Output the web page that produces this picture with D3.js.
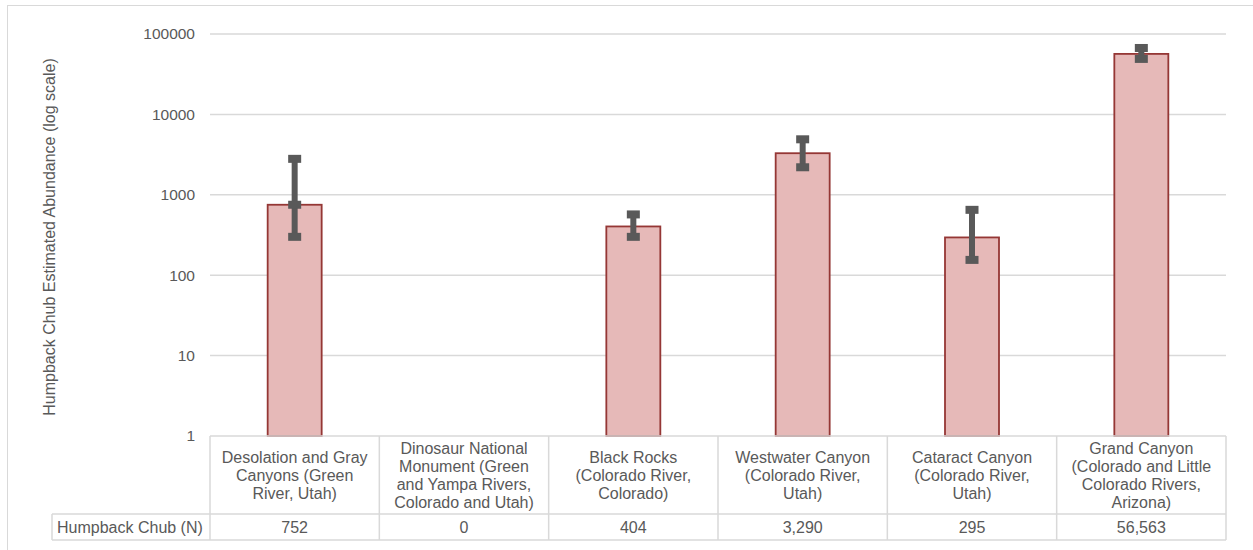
<!DOCTYPE html>
<html>
<head>
<meta charset="utf-8">
<script src="https://cdn.jsdelivr.net/npm/d3@7/dist/d3.min.js"></script>
<style>
  html, body { margin: 0; padding: 0; background: #fff; }
  svg { display: block; font-family: "Liberation Sans", Arial, sans-serif; }
</style>
</head>
<body>
<svg id="chart" width="1253" height="550"></svg>
<script>
// River reaches (table header lines) and estimated abundance
const categories = [
  "Desolation and Gray Canyons (Green River, Utah)",
  "Dinosaur National Monument (Green and Yampa Rivers, Colorado and Utah)",
  "Black Rocks (Colorado River, Colorado)",
  "Westwater Canyon (Colorado River, Utah)",
  "Cataract Canyon (Colorado River, Utah)",
  "Grand Canyon (Colorado and Little Colorado Rivers, Arizona)"
];
const categoryLines = [
  ["Desolation and Gray", "Canyons (Green", "River, Utah)"],
  ["Dinosaur National", "Monument (Green", "and Yampa Rivers,", "Colorado and Utah)"],
  ["Black Rocks", "(Colorado River,", "Colorado)"],
  ["Westwater Canyon", "(Colorado River,", "Utah)"],
  ["Cataract Canyon", "(Colorado River,", "Utah)"],
  ["Grand Canyon", "(Colorado and Little", "Colorado Rivers,", "Arizona)"]
];
const seriesName = "Humpback Chub (N)";
const abundance = [752, 0, 404, 3290, 295, 56563];
// Confidence interval bounds (null where no estimate)
const ciLow  = [300, null, 300, 2200, 155, 49000];
const ciHigh = [2800, null, 570, 4900, 650, 67000];
// Additional marker on the interval at the point estimate
const estimateMarks = [752, null, null, null, null, null];
const yTicks = [1, 10, 100, 1000, 10000, 100000];

const svg = d3.select("#chart");
const textColor = "#595959";
const gridColor = "#d9d9d9";

const plotLeft = 210, plotRight = 1226, plotTop = 34, plotBottom = 436;
const headerBottom = 514, valueBottom = 540, labelLeft = 52;

// Chart area border
svg.append("rect")
  .attr("x", 7.5).attr("y", 5.5)
  .attr("width", 1260).attr("height", 570)
  .attr("fill", "none").attr("stroke", gridColor).attr("stroke-width", 1);

const x = d3.scaleBand().domain(categories).range([plotLeft, plotRight]).padding(0);
const y = d3.scaleLog().domain([1, 100000]).range([plotBottom, plotTop]);

// Gridlines
svg.append("g")
  .selectAll("line")
  .data(yTicks.filter(t => t > 1))
  .join("line")
  .attr("x1", plotLeft).attr("x2", plotRight)
  .attr("y1", d => y(d)).attr("y2", d => y(d))
  .attr("stroke", gridColor).attr("stroke-width", 1.5);

// Y axis labels
const yAxis = d3.axisLeft(y).tickValues(yTicks).tickFormat(d3.format("d")).tickSize(0).tickPadding(15);
const gy = svg.append("g").attr("transform", `translate(${plotLeft},0)`).call(yAxis);
gy.select(".domain").remove();
gy.selectAll("text")
  .attr("fill", textColor)
  .style("font-size", "15.5px")
  .style("font-family", "'Liberation Sans', Arial, sans-serif");

// Y axis title
svg.append("text")
  .attr("transform", `translate(55,${(plotTop + plotBottom) / 2 + 2}) rotate(-90)`)
  .attr("text-anchor", "middle")
  .attr("fill", textColor)
  .style("font-size", "16px")
  .text("Humpback Chub Estimated Abundance (log scale)");

// Bars
const barW = 54;
svg.append("g")
  .selectAll("rect")
  .data(categories.map((c, i) => ({ c, v: abundance[i] })).filter(d => d.v > 0))
  .join("rect")
  .attr("x", d => x(d.c) + x.bandwidth() / 2 - barW / 2)
  .attr("y", d => y(d.v))
  .attr("width", barW)
  .attr("height", d => y(1) - y(d.v))
  .attr("fill", "#e6b9b8")
  .attr("stroke", "#953735")
  .attr("stroke-width", 1.8);

// Interval bars
const errColor = "#595959";
const capW = 13, capH = 8;
const errData = categories.map((c, i) => ({ c, lo: ciLow[i], hi: ciHigh[i], mid: estimateMarks[i] }))
  .filter(d => d.lo != null && d.hi != null);
const eg = svg.append("g");
errData.forEach(d => {
  const cx = x(d.c) + x.bandwidth() / 2;
  eg.append("line")
    .attr("x1", cx).attr("x2", cx)
    .attr("y1", y(d.hi)).attr("y2", y(d.lo))
    .attr("stroke", errColor).attr("stroke-width", 6);
  [d.lo, d.hi, d.mid].filter(v => v != null).forEach(v => {
    eg.append("rect")
      .attr("x", cx - capW / 2).attr("y", y(v) - capH / 2)
      .attr("width", capW).attr("height", capH)
      .attr("fill", errColor);
  });
});

// Data table
const tg = svg.append("g");
const lineStyle = s => s.attr("stroke", gridColor).attr("stroke-width", 1.5).attr("fill", "none");
// horizontal rules
tg.append("line").attr("x1", plotLeft).attr("x2", plotRight).attr("y1", plotBottom).attr("y2", plotBottom).call(lineStyle);
tg.append("line").attr("x1", labelLeft).attr("x2", plotRight).attr("y1", headerBottom).attr("y2", headerBottom).call(lineStyle);
tg.append("line").attr("x1", labelLeft).attr("x2", plotRight).attr("y1", valueBottom).attr("y2", valueBottom).call(lineStyle);
// vertical rules
tg.append("line").attr("x1", labelLeft).attr("x2", labelLeft).attr("y1", headerBottom).attr("y2", valueBottom).call(lineStyle);
const colEdges = categories.map(c => x(c)).concat([plotRight]);
tg.selectAll("line.col").data(colEdges).join("line").attr("class", "col")
  .attr("x1", d => d).attr("x2", d => d)
  .attr("y1", plotBottom).attr("y2", valueBottom).call(lineStyle);

// header text
const lineH = 18;
categories.forEach((c, i) => {
  const lines = categoryLines[i];
  const cx = x(c) + x.bandwidth() / 2;
  const midY = (plotBottom + headerBottom) / 2;
  const startY = midY - (lines.length - 1) * lineH / 2;
  const t = tg.append("text")
    .attr("text-anchor", "middle")
    .attr("fill", textColor)
    .style("font-size", "16px");
  lines.forEach((ln, k) => {
    t.append("tspan").attr("x", cx).attr("y", startY + k * lineH).attr("dy", "0.35em").text(ln);
  });
});

// value row
const fmt = d3.format(",");
tg.append("text")
  .attr("x", labelLeft + 5).attr("y", (headerBottom + valueBottom) / 2).attr("dy", "0.35em")
  .attr("fill", textColor).style("font-size", "16px")
  .text(seriesName);
categories.forEach((c, i) => {
  tg.append("text")
    .attr("x", x(c) + x.bandwidth() / 2).attr("y", (headerBottom + valueBottom) / 2).attr("dy", "0.35em")
    .attr("text-anchor", "middle")
    .attr("fill", textColor).style("font-size", "16px")
    .text(fmt(abundance[i]));
});
</script>
</body>
</html>
